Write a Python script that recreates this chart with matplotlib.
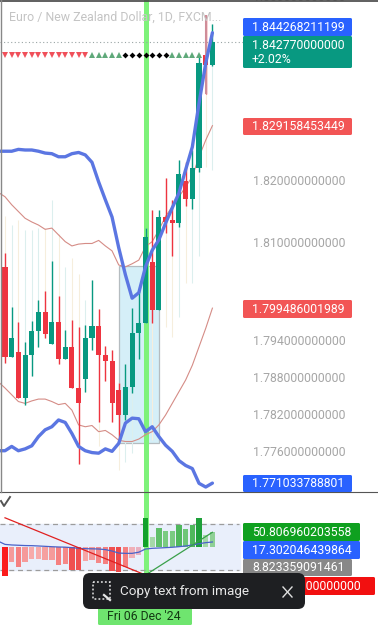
import numpy as np
import matplotlib
matplotlib.use('Agg')
import matplotlib.pyplot as plt
from matplotlib.patches import FancyBboxPatch, Rectangle

plt.rcParams['font.family'] = ['Roboto', 'DejaVu Sans']

W, H = 378, 625
GREEN = '#089981'
RED = '#ee3440'
BLUE = '#5b76e2'
THIN = '#d58c86'
HILITE = '#7ef27a'

# daily candles
opens = [1.8062, 1.7915, 1.7923, 1.7849, 1.7918, 1.7957, 1.7989, 1.7937, 1.7973, 1.7912, 1.7932,
         1.7865, 1.7879, 1.7946, 1.7966, 1.7918, 1.7909, 1.7862, 1.7821, 1.7867, 1.7954, 1.7971,
         1.8070, 1.7992, 1.8143, 1.8138, 1.8133, 1.8202, 1.8172, 1.8222, 1.8407, 1.8390]
highs = [1.8085, 1.7997, 1.7973, 1.7939, 1.7974, 1.8008, 1.8022, 1.8072, 1.8015, 1.7959, 1.7976,
         1.7965, 1.7967, 1.8041, 1.7993, 1.7933, 1.7927, 1.7873, 1.7904, 1.7995, 1.8024, 1.8125,
         1.8154, 1.8154, 1.8207, 1.8171, 1.8236, 1.8233, 1.8252, 1.8408, 1.8472, 1.8457]
lows = [1.7906, 1.7915, 1.7849, 1.7837, 1.7885, 1.7932, 1.7946, 1.7937, 1.7904, 1.7912, 1.7865,
        1.7741, 1.7859, 1.7927, 1.7809, 1.7876, 1.7810, 1.7780, 1.7813, 1.7857, 1.7912, 1.7971,
        1.7970, 1.7992, 1.8117, 1.8079, 1.8127, 1.8161, 1.8156, 1.8217, 1.8343, 1.8388]
closes = [1.7915, 1.7946, 1.7849, 1.7918, 1.7957, 1.7989, 1.7953, 1.7973, 1.7912, 1.7932, 1.7865,
          1.7840, 1.7946, 1.7966, 1.7918, 1.7909, 1.7840, 1.7821, 1.7867, 1.7954, 1.7971, 1.8110,
          1.7992, 1.8143, 1.8135, 1.8133, 1.8213, 1.8172, 1.8222, 1.8393, 1.8390, 1.84277]

# pale range behind each candle
n = np.nan
range_hi = [1.8144, 1.8130, 1.8138, 1.8122, 1.8122, 1.8125, 1.8125, 1.8171, 1.8116, 1.8062, 1.8076,
            1.8051, 1.8008, n, n, n, n, n, n, n, n, n, n, n, n, n, n, n, n, n, n, n]
range_lo = [n, n, n, n, n, n, n, n, n, n, n, n, n, n, 1.7770, n, n, 1.7732, 1.7745, 1.7759, n, n,
            1.7780, n, 1.7965, 1.7948, 1.7981, 1.8035, 1.8035, 1.8079, 1.8225, 1.8220]

# bands, first value sits on the left edge of the pane
wide_upper = [1.8250, 1.8250, 1.8250, 1.8253, 1.8252, 1.8252, 1.8250, 1.8247, 1.8246, 1.8241, 1.8241,
              1.8246, 1.8248, 1.8244, 1.8232, 1.8200, 1.8171, 1.8143, 1.8093, 1.8049, 1.8011, 1.8020,
              1.8062, 1.8089, 1.8106, 1.8133, 1.8158, 1.8182, 1.8220, 1.8257, 1.8328, 1.8393, 1.844268]
wide_lower = [1.7763, 1.7763, 1.7770, 1.7763, 1.7766, 1.7771, 1.7786, 1.7797, 1.7802, 1.7813, 1.7809,
              1.7791, 1.7770, 1.7763, 1.7760, 1.7759, 1.7766, 1.7762, 1.7775, 1.7808, 1.7816, 1.7815,
              1.7794, 1.7802, 1.7786, 1.7772, 1.7762, 1.7747, 1.7739, 1.7734, 1.7710, 1.7704, 1.771034]
thin_upper = [1.8183, 1.8176, 1.8163, 1.8152, 1.8141, 1.8135, 1.8130, 1.8123, 1.8125, 1.8114, 1.8103,
              1.8096, 1.8099, 1.8100, 1.8100, 1.8105, 1.8096, 1.8088, 1.8065, 1.8062, 1.8067, 1.8073,
              1.8095, 1.8103, 1.8122, 1.8144, 1.8160, 1.8176, 1.8192, 1.8209, 1.8241, 1.8268, 1.829158]
thin_lower = [1.7875, 1.7865, 1.7854, 1.7843, 1.7840, 1.7844, 1.7847, 1.7847, 1.7843, 1.7838, 1.7840,
              1.7829, 1.7805, 1.7802, 1.7804, 1.7794, 1.7796, 1.7789, 1.7780, 1.7778, 1.7778, 1.7782,
              1.7789, 1.7794, 1.7805, 1.7821, 1.7840, 1.7859, 1.7878, 1.7902, 1.7932, 1.7962, 1.799486]

# signal row above the candles: 0 sell, 1 buy, 2 neutral
signals = [0] * 13 + [1] * 5 + [2] * 7 + [1] * 5

price_ticks = [1.85, 1.82, 1.81, 1.794, 1.788, 1.782, 1.776]
last_price = 1.84277
box_start, box_end = 17, 23
box_top, box_bottom = 1.8063, 1.7776
highlight_idx = 21

# oscillator pane
hist = [-99, -53, -69, -53, -41.5, -41.5, -45, -45, -62, -58, -80, -80, -48, -45, -56.5, -59, -83, -85,
        -68, -37, -28, 101.5, 36, 65, 55, 55, 76, 61, 76, 101.5, 41.5, 50.807]
hist_colors = ['#fb1c1c', '#f59a9a', '#f58080', '#f59a9a', '#f7aaaa', '#f7aaaa', '#f5a0a0', '#f59a9a',
               '#f58080', '#f58888', '#f05050', '#f05050', '#f7a5a5', '#f59a9a', '#f58888', '#f58080',
               '#f05050', '#ee4a4a', '#f58080', '#f0b0b8', '#e8b0c0', '#12a12c', '#a5d8a8', '#5fbf6a',
               '#7acb82', '#7acb82', '#4fb85c', '#6fc678', '#4fb85c', '#1ea03a', '#a5d8a8', '#8fd095']
osc_avg = [20, 9, 7, 6, 5, 4.6, 3.5, 2.3, 1, 0, -0.6, -2.3, -4.6, -5.8, -6.3, -7, -9, -14, -21, -22, -22,
           -18, -7, -4.6, -3.5, -2.3, -1, 1, 3.5, 7, 11.5, 15, 17.302]
down_x, down_y = [0, 20.7], [101, -94]
up_x, up_y = [21.2, 31], [-94, 50.807]
osc_levels = [80, -80]

x = np.arange(32)
x_line = np.arange(-1, 32)
opens, highs, lows, closes = map(np.array, (opens, highs, lows, closes))
candle_colors = np.where(closes >= opens, GREEN, RED)

fig = plt.figure(figsize=(W / 100, H / 100), dpi=100, facecolor='white')


def pane(top, bottom):
    a = fig.add_axes([0, 1 - bottom / H, 1, (bottom - top) / H])
    a.set_xlim(-0.747, 55.75)
    a.axis('off')
    return a


ax = pane(0, 492)
ax.set_ylim(1.76959, 1.84959)
ax.axvline(highlight_idx, color=HILITE, lw=3.6, zorder=1)
ax.add_patch(Rectangle((box_start - 0.03, box_bottom), box_end - box_start + 0.03, box_top - box_bottom,
                       facecolor='#d5eff8', edgecolor='#b5bcc0', lw=0.9, zorder=0.5))

# pale ranges
hi = np.where(np.isnan(range_hi), highs, range_hi)
lo = np.where(np.isnan(range_lo), lows, range_lo)
pale = np.where(closes >= opens, '#dcefee', '#f6eedd')
ax.vlines(x, lo, hi, colors=pale, lw=0.8, zorder=1.5)

ax.plot(x_line, thin_upper, color=THIN, lw=0.8, zorder=2)
ax.plot(x_line, thin_lower, color=THIN, lw=0.8, zorder=2)
ax.axhline(last_price, color='#9aa5a5', lw=0.8, ls=(0, (1, 2.2)), xmax=243 / W, zorder=2)

ax.vlines(x, lows, highs, colors=candle_colors, lw=1.0, zorder=3)
ax.bar(x, np.abs(closes - opens), bottom=np.minimum(opens, closes), width=0.76, color=candle_colors, zorder=3)
# the wide pink wick near the end
ax.vlines(x[30], lows[30], highs[30], colors='#cf8c98', lw=1.5, zorder=3.1)

ax.plot(x_line, wide_upper, color=BLUE, lw=2.4, zorder=4, solid_capstyle='round')
ax.plot(x_line, wide_lower, color=BLUE, lw=2.4, zorder=4, solid_capstyle='round')

trans = ax.get_xaxis_transform()
sig_y = 1 - 55 / 492
styles = {0: ('v', '#f0505a'), 1: ('^', '#5fa97a'), 2: ('D', '#000000')}
for i, s in enumerate(signals):
    m, c = styles[s]
    ax.plot(i, sig_y, m, color=c, ms=3.7 if s != 2 else 3, mew=0, transform=trans, zorder=5)

ax.text(0.6, 1 - 17 / 492, 'Euro / New Zealand Dollar, 1D, FXCM...', transform=trans, color='#c4c4c4',
        fontsize=8.9, va='center', ha='left', zorder=6)
for t in price_ticks:
    ax.text(37.1, t, '%.12f' % t, color='#a6a6a6', fontsize=8.85, va='center', ha='left', zorder=6)

ax2 = pane(493, 610)
ax2.set_ylim(-218, 186.8)
ax2.axhspan(osc_levels[1], osc_levels[0], xmax=240 / W, color='#e9effb', zorder=0)
ax2.axvline(highlight_idx, color=HILITE, lw=3.6, zorder=1)
for lev in osc_levels:
    ax2.plot([-0.747, 35], [lev, lev], color='#9c9c9c', lw=0.9, ls=(0, (4, 3)), zorder=1.2)
ax2.bar(x, hist, width=0.8, color=hist_colors, zorder=2)
ax2.plot(x_line, osc_avg, color='#4a62c8', lw=0.9, zorder=3)
ax2.plot(down_x, down_y, color='#e02020', lw=0.9, zorder=3)
ax2.plot(up_x, up_y, color='#3aa04a', lw=0.9, zorder=3)

# separators, price flags and the overlay toast in pixel space
ui = fig.add_axes([0, 0, 1, 1], facecolor='none')
ui.set_xlim(0, W)
ui.set_ylim(H, 0)
ui.axis('off')
ui.plot([0, W], [492, 492], color='#555555', lw=0.8)
ui.plot([0, W], [0.5, 0.5], color='#444444', lw=1.2)
ui.plot([0.5, 0.5], [0, 492], color='#888888', lw=1)
ui.plot([1, 4, 10], [501, 506, 497], color='#555555', lw=1.4)


def flag(x0, x1, y0, y1, color, text, size=8.85, tc='white'):
    ui.add_patch(FancyBboxPatch((x0 + 1, y0 + 1), x1 - x0 - 2, y1 - y0 - 2, boxstyle='round,pad=1,rounding_size=1.5',
                                fc=color, ec='none', zorder=7))
    ui.text(x0 + 9, (y0 + y1) / 2 + 0.3, text, color=tc, fontsize=size, va='center', ha='left', zorder=8,
            linespacing=1.15)


flag(243, 352, 18, 36, '#2962ff', '1.844268211199')
flag(243, 352, 36, 68, '#089981', '1.842770000000\n+2.02%')
flag(243, 352, 118, 135, '#f25555', '1.829158453449')
flag(243, 352, 300, 318, '#f25555', '1.799486001989')
flag(243, 352, 475, 492, '#2962ff', '1.771033788801')
flag(243, 360, 523, 541, '#0fa01f', '50.806960203558')
flag(243, 360, 541, 559, '#2962ff', '17.302046439864')
flag(243, 352, 559, 576, '#888888', '8.823359091461')
flag(243, 375, 577, 595, '#f21010', '-100.000000000000')

flag(98, 192, 608, 625, '#6fe56f', "Fri 06 Dec '24", size=8.85, tc='#143a14')

ui.add_patch(FancyBboxPatch((90, 580), 208, 22, boxstyle='round,pad=7,rounding_size=7', fc='#1e1f22', ec='none', zorder=9))
ui.add_patch(Rectangle((92.5, 582), 17, 17, fc='none', ec='#e6e6e6', lw=1.1, ls=(0, (1.2, 1.4)), zorder=10))
ui.plot([104, 110], [595, 600], color='#e6e6e6', lw=1.6, zorder=10)
ui.text(120, 592, 'Copy text from image', color='#e8e8e8', fontsize=9.7, va='center', ha='left', zorder=10)
ui.plot([283, 292], [587, 597], color='#e0e0e0', lw=1, zorder=10)
ui.plot([283, 292], [597, 587], color='#e0e0e0', lw=1, zorder=10)

fig.savefig('out.png', dpi=100)
